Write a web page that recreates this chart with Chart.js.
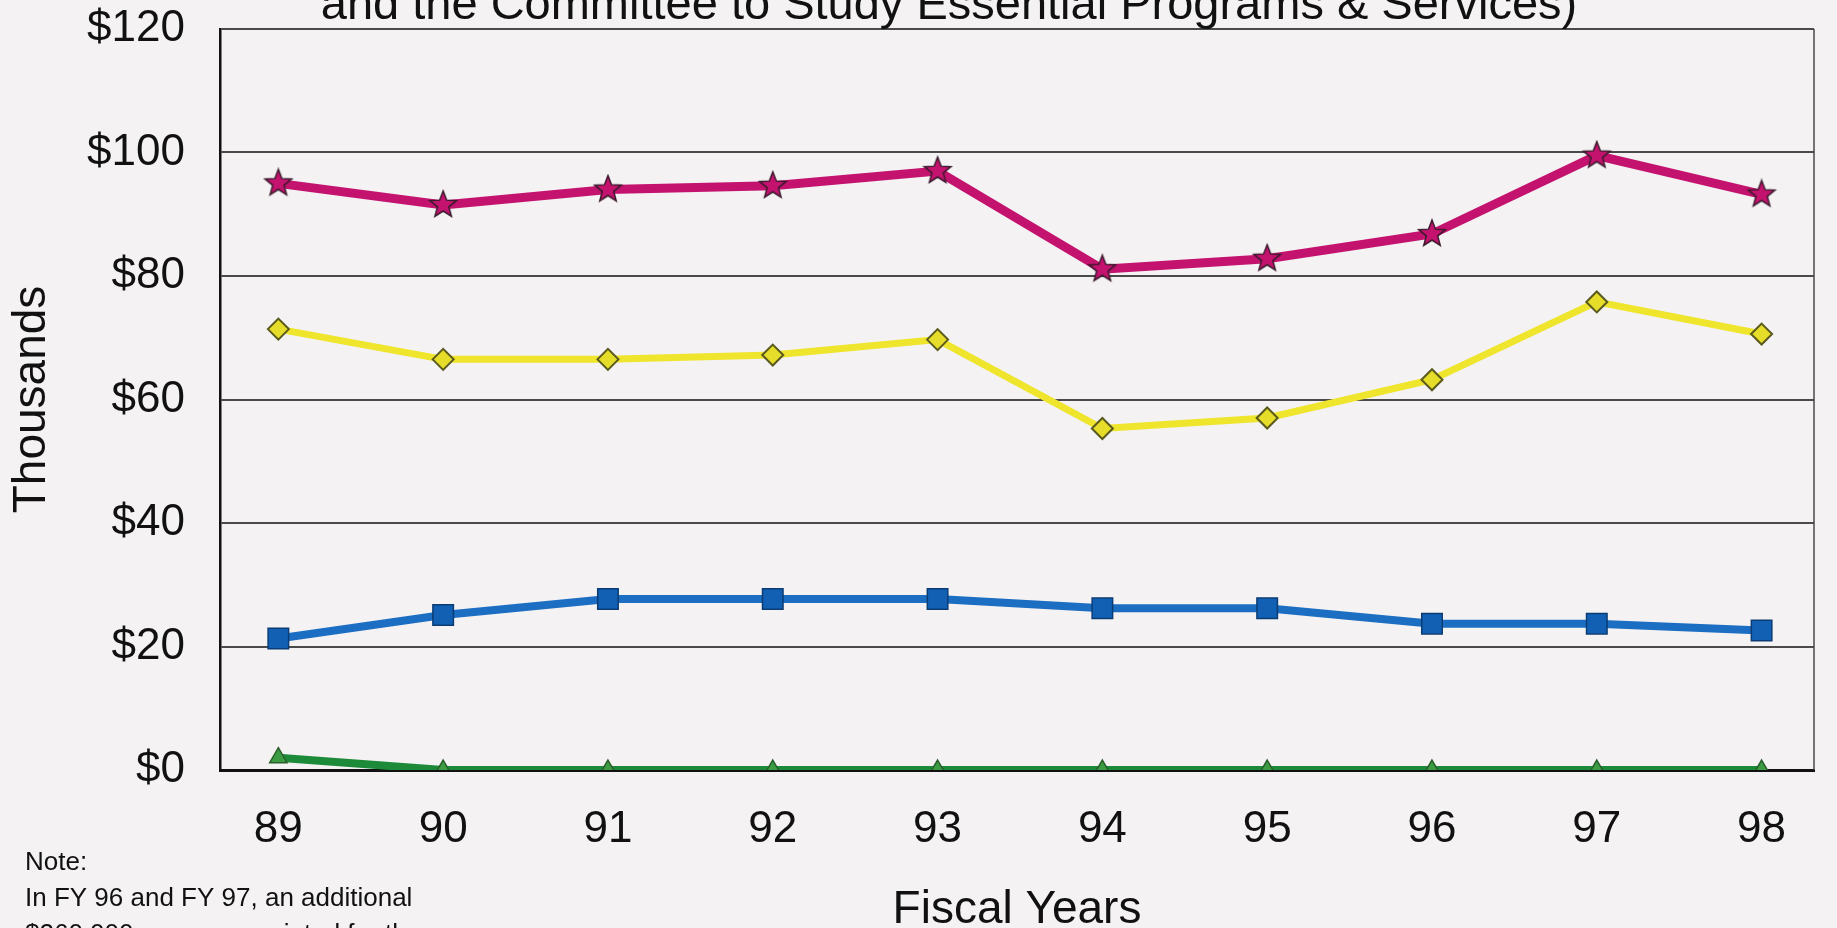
<!DOCTYPE html>
<html>
<head>
<meta charset="utf-8">
<title>Fiscal Years chart</title>
<script src="https://cdn.jsdelivr.net/npm/chart.js@4.4.1/dist/chart.umd.min.js"></script>
<style>
    html, body { margin: 0; padding: 0; background: #f4f2f3; overflow: hidden; }
    #wrap { position: relative; width: 1837px; height: 928px; }
</style>
</head>
<body>
<div id="wrap"><canvas id="chartFiscal"></canvas></div>
<script>
// Data (thousands of dollars)
const fiscalYears = [89, 90, 91, 92, 93, 94, 95, 96, 97, 98];
const yearLabels = ['89', '90', '91', '92', '93', '94', '95', '96', '97', '98'];
const seriesMagenta = [95.0, 91.5, 94.0, 94.6, 97.0, 81.1, 82.8, 86.8, 99.5, 93.2];
const seriesYellow = [71.4, 66.5, 66.5, 67.2, 69.7, 55.3, 57.0, 63.2, 75.8, 70.6];
const seriesBlue = [21.3, 25.1, 27.7, 27.7, 27.7, 26.2, 26.2, 23.7, 23.7, 22.6];
const seriesGreen = [2.0, 0, 0, 0, 0, 0, 0, 0, 0, 0];
const yTicks = [0, 20, 40, 60, 80, 100, 120];

const titleText = 'and the Committee to Study Essential Programs & Services)';
const noteLines = ['Note:', 'In FY 96 and FY 97, an additional', '$260,000 was appropriated for the'];

const FONT = '"Liberation Sans", Arial, Helvetica, sans-serif';

function toPoints(values) {
    return fiscalYears.map((yr, i) => ({ x: yr, y: values[i] }));
}

// filled star marker (Chart.js built-in star is only strokes)
function makeStar(fill, stroke) {
    const c = document.createElement('canvas');
    c.width = 32; c.height = 32;
    const g = c.getContext('2d');
    g.beginPath();
    for (let i = 0; i < 10; i++) {
        const r = i % 2 === 0 ? 14 : 6;
        const a = -Math.PI / 2 + i * Math.PI / 5;
        g.lineTo(16 + r * Math.cos(a), 16 + r * Math.sin(a));
    }
    g.closePath();
    g.fillStyle = fill;
    g.fill();
    g.lineWidth = 1.5;
    g.strokeStyle = stroke;
    g.stroke();
    return c;
}

// Title (cropped at top) + note text + right frame line
const extrasPlugin = {
    id: 'extras',
    beforeDatasetsDraw(chart) {
        const { ctx, chartArea } = chart;
        ctx.save();
        ctx.strokeStyle = '#4a4a4a';
        ctx.lineWidth = 1.5;
        ctx.beginPath();
        ctx.moveTo(chartArea.right, chartArea.top);
        ctx.lineTo(chartArea.right, chartArea.bottom);
        ctx.stroke();
        ctx.restore();
    },
    afterDraw(chart) {
        const ctx = chart.ctx;
        ctx.save();
        ctx.fillStyle = '#111';
        ctx.textAlign = 'center';
        ctx.textBaseline = 'alphabetic';
        ctx.font = '47px ' + FONT;
        ctx.fillText(titleText, 949, 19);

        ctx.textAlign = 'left';
        ctx.font = '26px ' + FONT;
        noteLines.forEach((line, i) => {
            ctx.fillText(line, 25, 870 + i * 36);
        });
        ctx.restore();
    }
};

function initChart() {
    const ctx = document.getElementById('chartFiscal');
    const starImg = makeStar('#c4126f', '#3a1a2c');

    window.chartInstance = new Chart(ctx, {
        type: 'line',
        data: {
            datasets: [
                {
                    data: toPoints(seriesMagenta),
                    borderColor: '#c4126f', borderWidth: 9,
                    pointStyle: starImg, pointRadius: 14,
                    tension: 0
                },
                {
                    data: toPoints(seriesYellow),
                    borderColor: '#eee52c', borderWidth: 7,
                    pointStyle: 'rectRot', pointRadius: 10.5,
                    pointBackgroundColor: '#e6dd2a', pointBorderColor: '#5b5a1e', pointBorderWidth: 2,
                    tension: 0
                },
                {
                    data: toPoints(seriesBlue),
                    borderColor: '#1b6ec2', borderWidth: 8,
                    pointStyle: 'rect', pointRadius: 14.5,
                    pointBackgroundColor: '#1260b4', pointBorderColor: '#0b3c74', pointBorderWidth: 1.5,
                    tension: 0
                },
                {
                    data: toPoints(seriesGreen),
                    borderColor: '#1d8a3a', borderWidth: 8,
                    pointStyle: 'triangle', pointRadius: 10,
                    pointBackgroundColor: '#3c9c44', pointBorderColor: '#2a5e2a', pointBorderWidth: 1.5,
                    clip: { left: 20, top: 20, right: 20, bottom: 0 },
                    tension: 0
                }
            ]
        },
        options: {
            responsive: true,
            maintainAspectRatio: false,
            animation: false,
            layout: { padding: { top: 29, right: 4, bottom: 0, left: 0 } },
            plugins: { legend: { display: false }, tooltip: { enabled: false } },
            scales: {
                x: {
                    type: 'linear',
                    min: 88.646, max: 98.318,
                    afterBuildTicks: (scale) => { scale.ticks = fiscalYears.map(v => ({ value: v })); },
                    afterFit: (scale) => {
                        scale.height = 158;
                        scale.paddingLeft = 0;
                        scale.paddingRight = 0;
                    },
                    grid: { display: false, drawTicks: false },
                    border: { display: true, color: '#111', width: 3 },
                    ticks: {
                        color: '#111', padding: 38, maxRotation: 0, autoSkip: false,
                        font: { family: FONT, size: 44, lineHeight: 1 },
                        callback: (v) => yearLabels[fiscalYears.indexOf(v)]
                    },
                    title: {
                        display: true, text: 'Fiscal Years', color: '#111',
                        font: { family: FONT, size: 46, lineHeight: 1 },
                        padding: { top: 0, bottom: -5 }
                    }
                },
                y: {
                    min: 0, max: 120,
                    afterBuildTicks: (scale) => { scale.ticks = yTicks.map(v => ({ value: v })); },
                    afterFit: (scale) => {
                        scale.width = 220;
                        scale.paddingTop = 0;
                        scale.paddingBottom = 0;
                    },
                    grid: { color: '#4a4a4a', lineWidth: 2, drawTicks: false },
                    border: { display: true, color: '#111', width: 2.5 },
                    ticks: {
                        color: '#111', padding: 35,
                        font: { family: FONT, size: 44, lineHeight: 1 },
                        callback: (v) => '$' + v
                    },
                    title: {
                        display: true, text: 'Thousands', color: '#111',
                        font: { family: FONT, size: 46, lineHeight: 1 },
                        padding: { top: 9, bottom: 0 }
                    }
                }
            }
        },
        plugins: [extrasPlugin]
    });
}

initChart();
</script>
</body>
</html>
